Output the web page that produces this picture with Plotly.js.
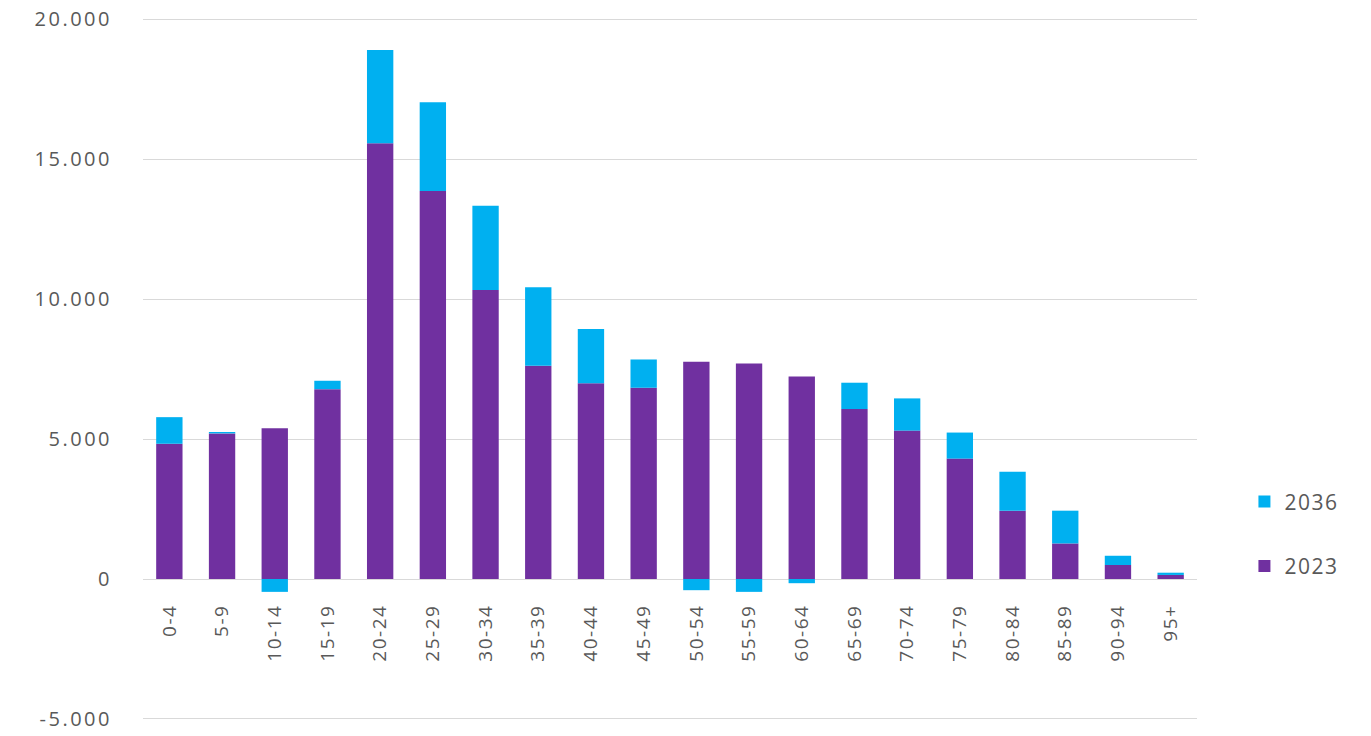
<!DOCTYPE html>
<html>
<head>
<meta charset="utf-8">
<script src="https://cdn.plot.ly/plotly-3.0.1.min.js"></script>
<style>
html,body{margin:0;padding:0;background:#fff;}
#chart{width:1371px;height:736px;}
#chart .ytick text{letter-spacing:2.5px;}
#chart .legendtext{letter-spacing:1.5px;}
#chart .xtick text{letter-spacing:1.5px;}
</style>
</head>
<body>
<div id="chart"></div>
<script>
const ageGroups = ["0-4","5-9","10-14","15-19","20-24","25-29","30-34","35-39","40-44","45-49","50-54","55-59","60-64","65-69","70-74","75-79","80-84","85-89","90-94","95+"];
const values2023 = [4830, 5200, 5380, 6780, 15560, 13860, 10320, 7620, 6990, 6830, 7760, 7700, 7230, 6070, 5300, 4300, 2440, 1270, 500, 145];
const values2036 = [950, 50, -460, 300, 3330, 3170, 3010, 2800, 1940, 1010, -400, -460, -150, 940, 1150, 930, 1390, 1170, 330, 80];
const yTickVals = [-5000, 0, 5000, 10000, 15000, 20000];
const yTickText = ["-5.000", "0", "5.000", "10.000", "15.000", "20.000"];

const fontFam = "'Open Sans', 'Noto Sans', sans-serif";
const gray = "#595959";

const traces = [
  {type: "bar", name: "2023", x: ageGroups, y: values2023, marker: {color: "#7030A0"}, legendgroup: "a", legendrank: 2},
  {type: "bar", name: "2036", x: ageGroups, y: values2036, marker: {color: "#00B0F0"}, legendgroup: "b", legendrank: 1}
];

const yMin = -5036, yMax = 20036;

const layout = {
  width: 1371, height: 736,
  margin: {l: 143, r: 174, t: 18, b: 16},
  paper_bgcolor: "#fff", plot_bgcolor: "#fff",
  barmode: "relative",
  bargap: 0.5,
  font: {family: fontFam, color: gray, size: 16},
  xaxis: {
    type: "category",
    anchor: "free", position: (0 - yMin) / (yMax - yMin),
    showgrid: false, showline: false, zeroline: false,
    tickangle: -90,
    ticks: "outside", ticklen: 17, tickcolor: "rgba(0,0,0,0)",
    tickfont: {size: 19, color: gray}
  },
  yaxis: {
    range: [yMin, yMax],
    tickvals: yTickVals,
    ticktext: yTickText,
    showgrid: true, gridcolor: "#d9d9d9", gridwidth: 1,
    zeroline: true, zerolinecolor: "#d9d9d9", zerolinewidth: 1,
    showline: false,
    ticks: "outside", ticklen: 26, tickcolor: "rgba(0,0,0,0)",
    tickfont: {size: 20, color: gray}
  },
  legend: {
    x: 1.045, xanchor: "left", y: 0.265, yanchor: "middle",
    traceorder: "grouped", tracegroupgap: 34,
    font: {size: 21, color: gray},
    bgcolor: "rgba(0,0,0,0)"
  },
  showlegend: true
};

Plotly.newPlot("chart", traces, layout, {displayModeBar: false, staticPlot: true});
</script>
</body>
</html>
